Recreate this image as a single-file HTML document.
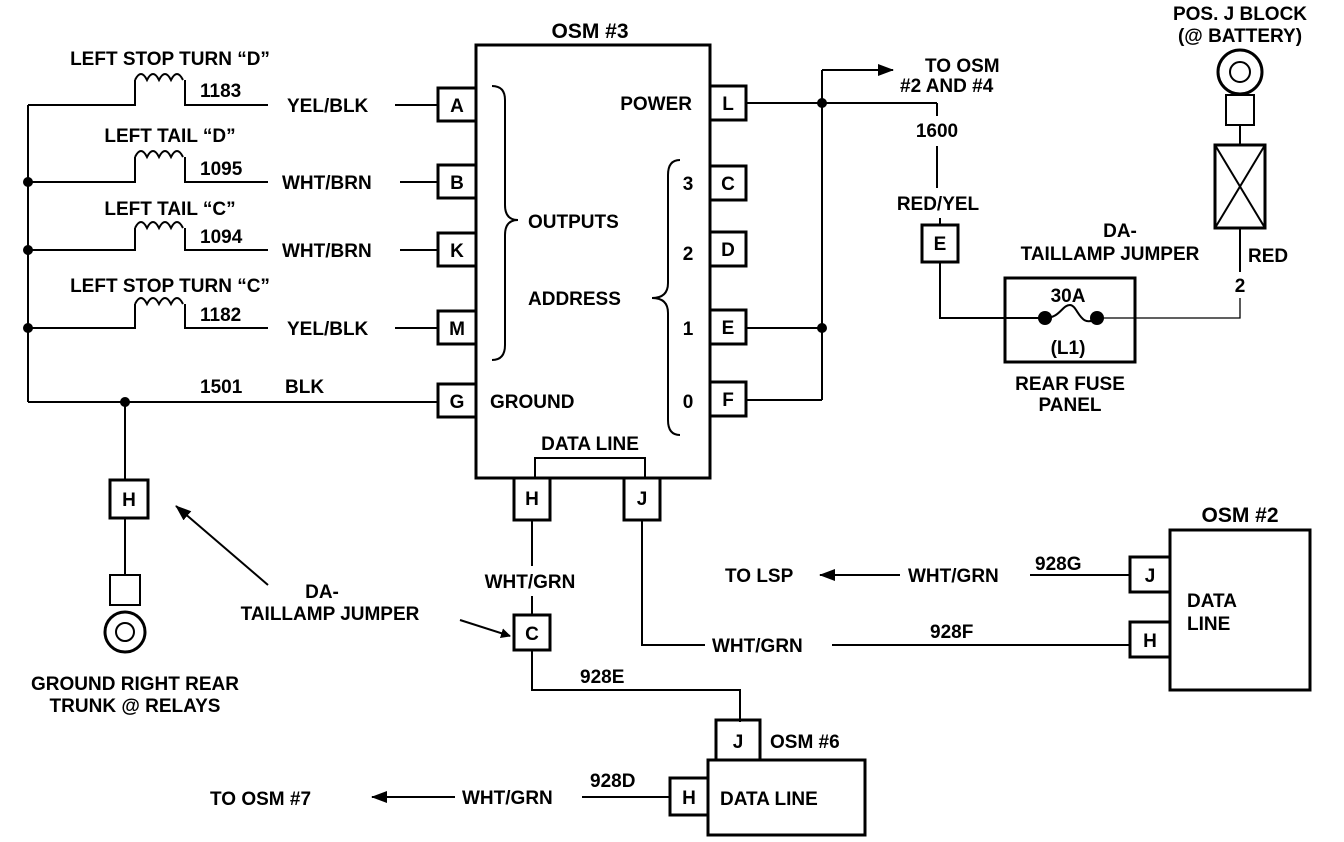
<!DOCTYPE html>
<html><head><meta charset="utf-8"><style>
html,body{margin:0;padding:0;background:#fff;}
svg{display:block;}
text{font-family:"Liberation Sans",sans-serif;font-weight:bold;font-size:19px;fill:#000;}
.c{text-anchor:middle;}
</style></head><body>
<svg width="1344" height="842" viewBox="0 0 1344 842" xmlns="http://www.w3.org/2000/svg">
<defs><marker id="ar" markerWidth="10" markerHeight="10" refX="9" refY="5" orient="auto" markerUnits="userSpaceOnUse"><path d="M0,0 L10,5 L0,10 z" fill="#000"/></marker>
<marker id="ar2" markerWidth="16" markerHeight="12" refX="15" refY="6" orient="auto" markerUnits="userSpaceOnUse"><path d="M0,0 L16,6 L0,12 z" fill="#000"/></marker></defs>
<g stroke="#000" stroke-width="2" fill="none">
<rect x="476" y="45" width="234" height="433" stroke-width="3"/>
<rect x="438" y="88" width="38" height="33" stroke-width="3"/>
<rect x="438" y="165" width="38" height="33" stroke-width="3"/>
<rect x="438" y="233" width="38" height="33" stroke-width="3"/>
<rect x="438" y="311" width="38" height="33" stroke-width="3"/>
<rect x="438" y="384" width="38" height="33" stroke-width="3"/>
<rect x="710" y="86" width="36" height="34" stroke-width="3"/>
<rect x="710" y="166" width="36" height="34" stroke-width="3"/>
<rect x="710" y="232" width="36" height="34" stroke-width="3"/>
<rect x="710" y="310" width="36" height="34" stroke-width="3"/>
<rect x="710" y="382" width="36" height="34" stroke-width="3"/>
<rect x="514" y="478" width="36" height="42" stroke-width="3"/>
<rect x="624" y="478" width="36" height="42" stroke-width="3"/>
<polyline points="535,478 535,458 645,458 645,478"/>
<path d="M492,86 Q505,86 505,100 L505,205 Q505,220 518,220 Q505,220 505,235 L505,345 Q505,360 492,360"/>
<path d="M680,160 Q668,160 668,175 L668,283 Q668,298 652,298 Q668,298 668,313 L668,420 Q668,435 680,435"/>
<line x1="28" y1="105" x2="28" y2="402"/>
<g>
<polyline points="28,105 135,105 135,80"/><path d="M135,80 q6,-12 12,0 q6,-12 12,0 q6,-12 12,0 q6,-12 12,0"/><polyline points="185,80 185,105 268,105"/><line x1="395" y1="105" x2="438" y2="105"/>
<polyline points="28,182 135,182 135,157"/><path d="M135,157 q6,-12 12,0 q6,-12 12,0 q6,-12 12,0 q6,-12 12,0"/><polyline points="185,157 185,182 268,182"/><line x1="400" y1="182" x2="438" y2="182"/>
<polyline points="28,250 135,250 135,228"/><path d="M135,228 q6,-12 12,0 q6,-12 12,0 q6,-12 12,0 q6,-12 12,0"/><polyline points="185,228 185,250 268,250"/><line x1="400" y1="250" x2="438" y2="250"/>
<polyline points="28,328 135,328 135,304"/><path d="M135,304 q6,-12 12,0 q6,-12 12,0 q6,-12 12,0 q6,-12 12,0"/><polyline points="185,304 185,328 268,328"/><line x1="395" y1="328" x2="438" y2="328"/>
</g>
<line x1="28" y1="402" x2="438" y2="402"/>
<line x1="125" y1="402" x2="125" y2="480"/>
<rect x="110" y="480" width="38" height="38" stroke-width="3"/>
<line x1="125" y1="518" x2="125" y2="575"/>
<rect x="110" y="575" width="30" height="30"/>
<circle cx="125" cy="632" r="20" stroke-width="3"/>
<circle cx="125" cy="632" r="9"/>
<line x1="268" y1="585" x2="176" y2="506" marker-end="url(#ar2)"/>
<line x1="460" y1="620" x2="510" y2="636" marker-end="url(#ar)"/>
<line x1="532" y1="520" x2="532" y2="566"/>
<line x1="532" y1="596" x2="532" y2="615"/>
<rect x="514" y="615" width="36" height="35" stroke-width="3"/>
<polyline points="532,650 532,690 740,690 740,722"/>
<rect x="716" y="720" width="44" height="40" stroke-width="3"/>
<rect x="708" y="760" width="157" height="75" stroke-width="3"/>
<rect x="670" y="778" width="38" height="37" stroke-width="3"/>
<line x1="670" y1="797" x2="582" y2="797"/>
<line x1="455" y1="797" x2="372" y2="797" marker-end="url(#ar2)"/>
<polyline points="642,520 642,645 705,645"/>
<line x1="832" y1="645" x2="1130" y2="645"/>
<rect x="1170" y="530" width="140" height="160" stroke-width="3"/>
<rect x="1130" y="557" width="40" height="35" stroke-width="3"/>
<rect x="1130" y="622" width="40" height="35" stroke-width="3"/>
<line x1="1130" y1="575" x2="1030" y2="575"/>
<line x1="900" y1="575" x2="820" y2="575" marker-end="url(#ar2)"/>
<line x1="746" y1="103" x2="937" y2="103"/>
<line x1="822" y1="70" x2="822" y2="400"/>
<line x1="822" y1="70" x2="893" y2="70" marker-end="url(#ar2)"/>
<line x1="746" y1="328" x2="822" y2="328"/>
<line x1="746" y1="400" x2="822" y2="400"/>
<line x1="937" y1="103" x2="937" y2="116"/>
<line x1="937" y1="146" x2="937" y2="188"/>
<line x1="940" y1="218" x2="940" y2="225"/>
<rect x="922" y="225" width="36" height="37" stroke-width="3"/>
<polyline points="940,262 940,318 1045,318"/>
<rect x="1005" y="278" width="130" height="84" stroke-width="3"/>
<path d="M1045,318 C1060,318 1062,305 1070,305 C1078,305 1080,330 1097,318"/>
<polyline points="1097,318 1240,318 1240,298" stroke-width="1.3"/>
<line x1="1240" y1="272" x2="1240" y2="228"/>
<rect x="1215" y="145" width="50" height="83" stroke-width="3"/>
<line x1="1215" y1="145" x2="1265" y2="228"/><line x1="1265" y1="145" x2="1215" y2="228"/>
<line x1="1240" y1="145" x2="1240" y2="125"/>
<rect x="1226" y="95" width="28" height="30"/>
<circle cx="1240" cy="72" r="22" stroke-width="3"/>
<circle cx="1240" cy="72" r="10"/>
</g>
<g fill="#000">
<circle cx="28" cy="182" r="5"/><circle cx="28" cy="250" r="5"/><circle cx="28" cy="328" r="5"/>
<circle cx="125" cy="402" r="5"/><circle cx="822" cy="103" r="5"/><circle cx="822" cy="328" r="5"/>
<circle cx="1045" cy="318" r="7"/><circle cx="1097" cy="318" r="7"/>
</g>
<text x="590" y="38" class="c" style="font-size:21px">OSM #3</text>
<text x="170" y="65" class="c">LEFT STOP TURN “D”</text>
<text x="170" y="142" class="c">LEFT TAIL “D”</text>
<text x="170" y="215" class="c">LEFT TAIL “C”</text>
<text x="170" y="292" class="c">LEFT STOP TURN “C”</text>
<text x="200" y="97">1183</text><text x="200" y="175">1095</text><text x="200" y="243">1094</text><text x="200" y="321">1182</text>
<text x="287" y="112">YEL/BLK</text><text x="282" y="189">WHT/BRN</text><text x="282" y="257">WHT/BRN</text><text x="287" y="335">YEL/BLK</text>
<text x="200" y="393">1501</text><text x="285" y="393">BLK</text>
<text x="457" y="112" class="c">A</text><text x="457" y="189" class="c">B</text><text x="457" y="257" class="c">K</text><text x="457" y="335" class="c">M</text><text x="457" y="408" class="c">G</text>
<text x="728" y="110" class="c">L</text><text x="728" y="190" class="c">C</text><text x="728" y="256" class="c">D</text><text x="728" y="334" class="c">E</text><text x="728" y="406" class="c">F</text>
<text x="532" y="505" class="c">H</text><text x="642" y="505" class="c">J</text>
<text x="692" y="110" style="text-anchor:end">POWER</text>
<text x="528" y="228">OUTPUTS</text><text x="528" y="305">ADDRESS</text><text x="490" y="408">GROUND</text>
<text x="688" y="190" class="c">3</text><text x="688" y="260" class="c">2</text><text x="688" y="335" class="c">1</text><text x="688" y="408" class="c">0</text>
<text x="590" y="450" class="c">DATA LINE</text>
<text x="129" y="506" class="c">H</text>
<text x="135" y="690" class="c">GROUND RIGHT REAR</text><text x="135" y="712" class="c">TRUNK @ RELAYS</text>
<text x="322" y="598" class="c">DA-</text><text x="330" y="620" class="c">TAILLAMP JUMPER</text>
<text x="530" y="588" class="c">WHT/GRN</text>
<text x="532" y="640" class="c">C</text>
<text x="580" y="683">928E</text>
<text x="738" y="748" class="c">J</text><text x="770" y="748">OSM #6</text>
<text x="720" y="805">DATA LINE</text>
<text x="689" y="804" class="c">H</text>
<text x="210" y="805">TO OSM #7</text><text x="462" y="804">WHT/GRN</text><text x="590" y="787">928D</text>
<text x="712" y="652">WHT/GRN</text><text x="930" y="638">928F</text>
<text x="725" y="582">TO LSP</text><text x="908" y="582">WHT/GRN</text><text x="1035" y="570">928G</text>
<text x="1240" y="522" class="c" style="font-size:21px">OSM #2</text>
<text x="1150" y="582" class="c">J</text><text x="1150" y="647" class="c">H</text>
<text x="1187" y="607">DATA</text><text x="1187" y="630">LINE</text>
<text x="925" y="72">TO OSM</text><text x="900" y="92">#2 AND #4</text>
<text x="937" y="137" class="c">1600</text>
<text x="938" y="210" class="c">RED/YEL</text>
<text x="940" y="250" class="c">E</text>
<text x="1120" y="237" class="c">DA-</text><text x="1110" y="260" class="c">TAILLAMP JUMPER</text>
<text x="1068" y="302" class="c">30A</text><text x="1068" y="354" class="c">(L1)</text>
<text x="1070" y="390" class="c">REAR FUSE</text><text x="1070" y="411" class="c">PANEL</text>
<text x="1248" y="262">RED</text><text x="1240" y="292" class="c">2</text>
<text x="1240" y="20" class="c">POS. J BLOCK</text><text x="1240" y="42" class="c">(@ BATTERY)</text>
</svg>
</body></html>
